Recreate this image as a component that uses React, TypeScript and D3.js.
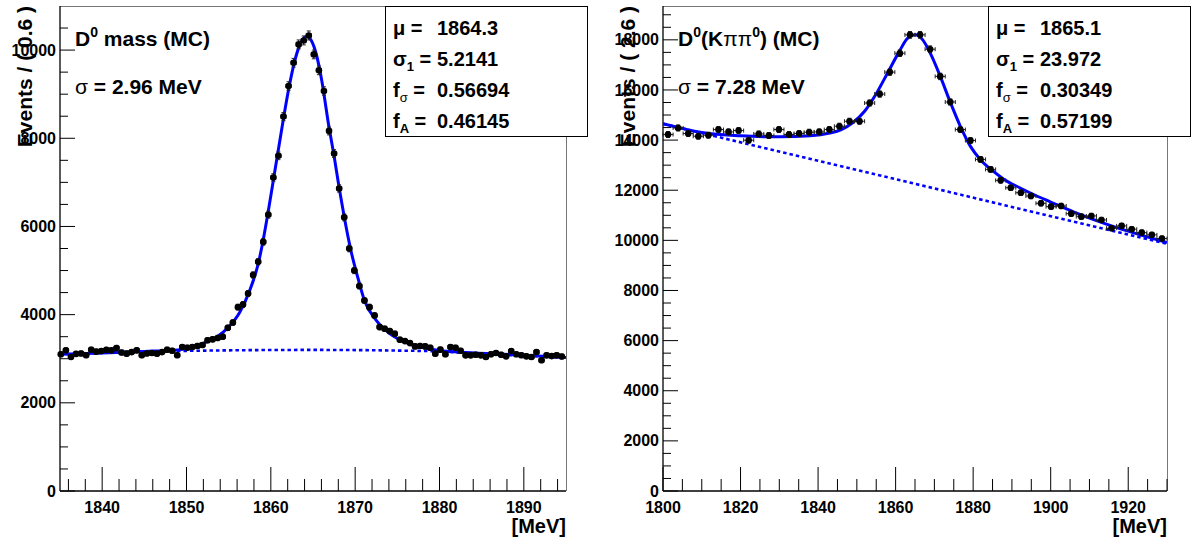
import React from 'react';
import * as d3 from 'd3';

const W = 1192;
const H = 539;
const FONT = '"Liberation Sans", Arial, Helvetica, sans-serif';

// ---------- Left panel: D0 mass (MC), bins of 0.6 MeV ----------
const leftFirstCenter = 1835.1;
const leftBinWidth = 0.6;
const leftCounts = [
  3100, 3190, 3040, 3110, 3120, 3080, 3205, 3160, 3175, 3200,
  3190, 3245, 3140, 3115, 3150, 3190, 3080, 3120, 3130, 3115,
  3150, 3205, 3180, 3080, 3265, 3250, 3265, 3290, 3310, 3420,
  3440, 3470, 3500, 3700, 3820, 4170, 4230, 4480, 4900, 5200,
  5650, 6267, 7111, 7602, 8491, 9186, 9713, 10129, 10219, 10332,
  9902, 9540, 9072, 8167, 7654, 6862, 6206, 5500, 5000, 4650,
  4320, 4170, 3982, 3717, 3680, 3627, 3567, 3432, 3400, 3355,
  3280, 3290, 3280, 3250, 3115, 3206, 3100, 3265, 3250, 3180,
  3077, 3077, 3090, 3077, 3038, 3100, 3130, 3090, 3054, 3174,
  3100, 3080, 3054, 3038, 3152, 2964, 3077, 3060, 3077, 3050,
];
const leftFitMass = [
  1835, 1840, 1845, 1849, 1851.6, 1853.5, 1855.1, 1856.3, 1857.5, 1858.5,
  1859.1, 1859.7, 1860.3, 1860.9, 1861.5, 1862.1, 1862.7, 1863.3, 1863.9, 1864.3,
  1864.8, 1865.4, 1866, 1866.9, 1867.5, 1868.1, 1868.7, 1869.5, 1870.3, 1871.1,
  1872.5, 1874.1, 1876.4, 1879.2, 1883.1, 1889, 1895,
];
const leftFitValue = [
  3100, 3130, 3165, 3200, 3330, 3480, 3740, 4050, 4550, 5150,
  5700, 6350, 7050, 7750, 8450, 9100, 9650, 10050, 10270, 10310,
  10220, 9900, 9350, 8250, 7600, 6880, 6220, 5450, 4850, 4320,
  3870, 3570, 3340, 3210, 3140, 3090, 3025,
];
const leftBkgMass = [1835, 1845, 1855, 1865, 1875, 1880, 1885, 1890, 1895];
const leftBkgValue = [3100, 3160, 3190, 3200, 3185, 3165, 3110, 3070, 3022];
const leftXTicks = [1840, 1850, 1860, 1870, 1880, 1890];
const leftYTicks = [0, 2000, 4000, 6000, 8000, 10000];
const leftStatsLabels = ['μ', 'σ1', 'fσ', 'fA'];
const leftStatsValues = ['1864.3', '5.2141', '0.56694', '0.46145'];

// ---------- Right panel: D0(K pi pi0) (MC), bins of 2.6 MeV ----------
const rightFirstCenter = 1801.3;
const rightBinWidth = 2.6;
const rightCounts = [
  14222, 14485, 14262, 14155, 14195, 14421, 14326, 14380, 13996, 14246,
  14183, 14421, 14222, 14262, 14314, 14326, 14421, 14553, 14751, 14751,
  15479, 15837, 16712, 17467, 18198, 18198, 17626, 16541, 15519, 14421,
  13984, 13229, 12831, 12393, 12099, 11901, 11769, 11479, 11344, 11372,
  11066, 10946, 10974, 10815, 10485, 10577, 10445, 10310, 10219, 10072,
];
const rightFitMass = [
  1800, 1810, 1820, 1830, 1838, 1843, 1846, 1849, 1852, 1855,
  1858, 1861, 1863, 1865.1, 1867, 1869, 1871.5, 1874, 1876.7, 1879.3,
  1882, 1885, 1888, 1892, 1896, 1900, 1906, 1912, 1918, 1924, 1930,
];
const rightFitValue = [
  14650, 14300, 14170, 14130, 14170, 14280, 14420, 14700, 15150, 15850,
  16700, 17550, 18050, 18200, 18000, 17450, 16550, 15550, 14550, 13750,
  13200, 12780, 12430, 12100, 11800, 11530, 11130, 10780, 10460, 10180, 9910,
];
const rightBkgMass = [1800, 1930];
const rightBkgValue = [14650, 9860];
const rightXTicks = [1800, 1820, 1840, 1860, 1880, 1900, 1920];
const rightYTicks = [0, 2000, 4000, 6000, 8000, 10000, 12000, 14000, 16000, 18000];
const rightStatsLabels = ['μ', 'σ1', 'fσ', 'fA'];
const rightStatsValues = ['1865.1', '23.972', '0.30349', '0.57199'];

type PanelCfg = {
  left: number; right: number; top: number; bottom: number;
  xDomain: [number, number]; yDomain: [number, number];
  xTicks: number[]; xMinorStep: number; yTicks: number[]; yMinorStep: number;
  firstCenter: number; binWidth: number; counts: number[];
  fitMass: number[]; fitValue: number[]; bkgMass: number[]; bkgValue: number[];
  title: React.ReactNode; sigmaText: string; yTitle: string;
  statsX: number; statsW: number; statsLabels: string[]; statsValues: string[];
  id: string;
};

function StatLabel({ s }: { s: string }) {
  if (s === 'μ') return <tspan>μ =</tspan>;
  if (s === 'σ1') return (<><tspan>σ</tspan><tspan dy={5} fontSize={13}>1</tspan><tspan dy={-5}> =</tspan></>);
  if (s === 'fσ') return (<><tspan>f</tspan><tspan dy={5} fontSize={13} fontWeight="normal">σ</tspan><tspan dy={-5}> =</tspan></>);
  return (<><tspan>f</tspan><tspan dy={5} fontSize={13}>A</tspan><tspan dy={-5}> =</tspan></>);
}

function Panel({ c }: { c: PanelCfg }) {
  const x = d3.scaleLinear().domain(c.xDomain).range([c.left, c.right]);
  const y = d3.scaleLinear().domain(c.yDomain).range([c.bottom, c.top]);
  const line = d3.line<[number, number]>().x(d => x(d[0])).y(d => y(d[1])).curve(d3.curveMonotoneX);
  const fitPts: [number, number][] = c.fitMass.map((m, i) => [m, c.fitValue[i]]);
  const bkgPts: [number, number][] = c.bkgMass.map((m, i) => [m, c.bkgValue[i]]);
  const centers = c.counts.map((_, i) => c.firstCenter + c.binWidth * i);
  const xMinor = d3.range(Math.ceil(c.xDomain[0] / c.xMinorStep) * c.xMinorStep, c.xDomain[1] + 1e-6, c.xMinorStep);
  const yMinor = d3.range(0, c.yDomain[1], c.yMinorStep);
  const hw = (x(c.binWidth) - x(0)) / 2;
  const cap = 2;
  const clipId = 'clip-' + c.id;

  return (
    <g>
      <defs>
        <clipPath id={clipId}>
          <rect x={c.left} y={c.top} width={c.right - c.left} height={c.bottom - c.top} />
        </clipPath>
      </defs>
      {/* frame */}
      <line x1={c.left} x2={c.right} y1={c.top + 0.5} y2={c.top + 0.5} stroke="#777" strokeWidth={1} />
      <line x1={c.right + 0.5} x2={c.right + 0.5} y1={c.top} y2={c.bottom} stroke="#777" strokeWidth={1} />
      {/* axes */}
      <line x1={c.left} x2={c.right} y1={c.bottom} y2={c.bottom} stroke="#000" strokeWidth={1.3} />
      <line x1={c.left} x2={c.left} y1={c.top} y2={c.bottom} stroke="#000" strokeWidth={1.3} />
      {xMinor.map(t => (
        <line key={'xm' + t} x1={x(t)} x2={x(t)} y1={c.bottom} y2={c.bottom - (c.xTicks.some(v => Math.abs(v - t) < 1e-6) ? 24 : 12)} stroke="#000" strokeWidth={1} />
      ))}
      {yMinor.map(t => (
        <line key={'ym' + t} x1={c.left} x2={c.left + (c.yTicks.includes(t) ? 15 : 8)} y1={y(t)} y2={y(t)} stroke="#000" strokeWidth={1} />
      ))}
      {c.xTicks.map(t => (
        <text key={'xl' + t} x={x(t)} y={c.bottom + 22} textAnchor="middle" fontFamily={FONT} fontWeight="bold" fontSize={16}>{t}</text>
      ))}
      {c.yTicks.map(t => (
        <text key={'yl' + t} x={c.left - 4} y={y(t)} dy="0.35em" textAnchor="end" fontFamily={FONT} fontWeight="bold" fontSize={16}>{t}</text>
      ))}
      {/* axis titles */}
      <text x={c.right} y={c.bottom + 42} textAnchor="end" fontFamily={FONT} fontWeight="bold" fontSize={20}>[MeV]</text>
      <text transform={`translate(${c.left - 28},${c.top}) rotate(-90)`} textAnchor="end" fontFamily={FONT} fontWeight="bold" fontSize={21}>{c.yTitle}</text>
      {/* curves */}
      <g clipPath={`url(#${clipId})`}>
        <path d={line(bkgPts) || ''} fill="none" stroke="#0000ff" strokeWidth={2.6} strokeDasharray="3.5,3" />
        <path d={line(fitPts) || ''} fill="none" stroke="#0000ff" strokeWidth={3} />
      </g>
      {/* data */}
      <g>
        {c.counts.map((v, i) => {
          const cx = x(centers[i]);
          const cy = y(v);
          const e = Math.sqrt(v);
          const yt = y(v + e);
          const yb = y(v - e);
          return (
            <g key={'p' + i} stroke="#222" strokeWidth={1}>
              <line x1={cx - hw} x2={cx + hw} y1={cy} y2={cy} />
              <line x1={cx - hw} x2={cx - hw} y1={cy - cap} y2={cy + cap} />
              <line x1={cx + hw} x2={cx + hw} y1={cy - cap} y2={cy + cap} />
              <line x1={cx} x2={cx} y1={yt} y2={yb} />
              <line x1={cx - cap} x2={cx + cap} y1={yt} y2={yt} />
              <line x1={cx - cap} x2={cx + cap} y1={yb} y2={yb} />
              <circle cx={cx} cy={cy} r={3.3} fill="#000" stroke="none" />
            </g>
          );
        })}
      </g>
      {/* labels */}
      <text x={c.left + 15} y={46} fontFamily={FONT} fontWeight="bold" fontSize={21}>{c.title}</text>
      <text x={c.left + 15} y={94} fontFamily={FONT} fontWeight="bold" fontSize={21}>
        <tspan fontWeight="normal">σ</tspan><tspan>{' = ' + c.sigmaText}</tspan>
      </text>
      {/* stats box */}
      <rect x={c.statsX + 0.5} y={c.top + 0.5} width={c.statsW} height={130} fill="#fff" stroke="#000" strokeWidth={1} />
      {c.statsLabels.map((s, i) => (
        <g key={'s' + i}>
          <text x={c.statsX + 8} y={c.top + 29 + i * 31} fontFamily={FONT} fontWeight="bold" fontSize={20}><StatLabel s={s} /></text>
          <text x={c.statsX + 52} y={c.top + 29 + i * 31} fontFamily={FONT} fontWeight="bold" fontSize={20}>{c.statsValues[i]}</text>
        </g>
      ))}
    </g>
  );
}

export default function App() {
  const leftCfg: PanelCfg = {
    id: 'l', left: 60, right: 566, top: 6, bottom: 491,
    xDomain: [1835, 1895], yDomain: [0, 11000],
    xTicks: leftXTicks, xMinorStep: 2, yTicks: leftYTicks, yMinorStep: 500,
    firstCenter: leftFirstCenter, binWidth: leftBinWidth, counts: leftCounts,
    fitMass: leftFitMass, fitValue: leftFitValue, bkgMass: leftBkgMass, bkgValue: leftBkgValue,
    title: (<><tspan>D</tspan><tspan dy={-9} fontSize={14}>0</tspan><tspan dy={9}> mass (MC)</tspan></>),
    sigmaText: '2.96 MeV', yTitle: 'Events / ( 0.6 )',
    statsX: 385, statsW: 202, statsLabels: leftStatsLabels, statsValues: leftStatsValues,
  };
  const rightCfg: PanelCfg = {
    id: 'r', left: 663, right: 1167, top: 6, bottom: 491,
    xDomain: [1800, 1930], yDomain: [0, 19350],
    xTicks: rightXTicks, xMinorStep: 5, yTicks: rightYTicks, yMinorStep: 500,
    firstCenter: rightFirstCenter, binWidth: rightBinWidth, counts: rightCounts,
    fitMass: rightFitMass, fitValue: rightFitValue, bkgMass: rightBkgMass, bkgValue: rightBkgValue,
    title: (<><tspan>D</tspan><tspan dy={-9} fontSize={14}>0</tspan><tspan dy={9}>(K</tspan><tspan fontWeight="normal">ππ</tspan><tspan dy={-9} fontSize={14}>0</tspan><tspan dy={9}>) (MC)</tspan></>),
    sigmaText: '7.28 MeV', yTitle: 'Events / ( 2.6 )',
    statsX: 988, statsW: 202, statsLabels: rightStatsLabels, statsValues: rightStatsValues,
  };
  return (
    <svg width={W} height={H} style={{ position: 'absolute', left: 0, top: 0, background: '#fff' }}>
      <rect x={0} y={0} width={W} height={H} fill="#fff" />
      <Panel c={leftCfg} />
      <Panel c={rightCfg} />
    </svg>
  );
}
